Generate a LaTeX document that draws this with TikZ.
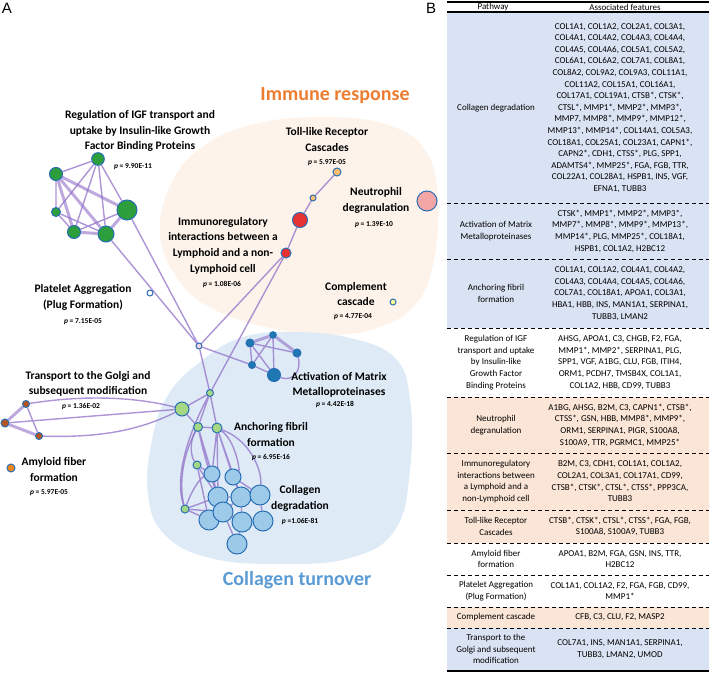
\documentclass[tikz,border=0pt]{standalone}
\usepackage{fontspec}
\setmainfont{Carlito}
\newfontfamily\panelfont{Liberation Sans}
\definecolor{rim}{RGB}{40,110,180}
\definecolor{linkc}{RGB}{145,112,200}
\definecolor{igf}{RGB}{44,158,60}
\definecolor{immred}{RGB}{230,50,50}
\definecolor{toll}{RGB}{253,191,111}
\definecolor{neut}{RGB}{244,166,166}
\definecolor{compl}{RGB}{255,255,150}
\definecolor{hubc}{RGB}{243,214,232}
\definecolor{mmp}{RGB}{31,119,180}
\definecolor{lgreen}{RGB}{166,216,132}
\definecolor{lblue}{RGB}{158,202,233}
\definecolor{golgi}{RGB}{180,85,35}
\definecolor{amy}{RGB}{242,135,30}
\definecolor{peach}{RGB}{253,243,234}
\definecolor{blobblue}{RGB}{222,235,247}
\definecolor{immtext}{RGB}{237,125,49}
\definecolor{coltext}{RGB}{91,155,213}
\definecolor{rowblue}{RGB}{218,227,243}
\definecolor{roworange}{RGB}{251,229,214}
\pgfdeclarelayer{blob}
\pgfdeclarelayer{link}
\pgfsetlayers{blob,link,main}
\begin{document}
\begin{tikzpicture}[x=1pt,y=-1pt,
 nd/.style={circle,draw=rim,line width=1pt,inner sep=0pt},
 lk/.style={draw=linkc,line width=1.4pt,opacity=0.75},
 lkb/.style={draw=linkc,line width=3pt,opacity=0.6},
 lbl/.style={font=\fontsize{11.5}{15.6}\selectfont\bfseries,align=center},
 pv/.style={font=\fontsize{7.5}{9}\selectfont\bfseries},
 cell/.style={font=\fontsize{9}{11.6}\selectfont,align=center},
 sep/.style={line width=0.9pt,dash pattern=on 4pt off 3pt}]
\useasboundingbox (0,0) rectangle (709,674);
\begin{pgfonlayer}{blob}
\fill[peach] plot[smooth cycle,tension=0.7] coordinates {(160,235) (172,182) (205,145) (255,124) (320,117) (385,124) (425,150) (438,200) (433,265) (415,305) (380,327) (330,335) (270,328) (215,310) (180,282)};
\fill[blobblue] plot[smooth cycle,tension=0.7] coordinates {(240,338) (290,332) (350,338) (395,358) (410,400) (410,470) (395,530) (350,558) (280,564) (210,558) (165,535) (148,495) (152,440) (168,395) (200,362)};
\end{pgfonlayer}
\node[font=\fontsize{15}{18}\selectfont\panelfont] (tagA) at (7,8) {A};
\node[font=\fontsize{15}{18}\selectfont\panelfont] (tagB) at (431,8) {B};
\node[font=\fontsize{20}{24}\selectfont\bfseries,text=immtext] (immune) at (335,96) {Immune response};
\node[font=\fontsize{20}{24}\selectfont\bfseries,text=coltext] (turnover) at (297,580) {Collagen turnover};
\node[nd,fill=igf,minimum size=12.6pt] (n1) at (98,159) {};
\node[nd,fill=igf,minimum size=13pt] (n2) at (56,174) {};
\node[nd,fill=igf,minimum size=9pt] (n3) at (56,212) {};
\node[nd,fill=igf,minimum size=13pt] (n4) at (74,232) {};
\node[nd,fill=igf,minimum size=16pt] (n5) at (106,234) {};
\node[nd,fill=igf,minimum size=20pt] (n6) at (127,210) {};
\node[nd,fill=toll,minimum size=8pt] (t1) at (337,172) {};
\node[nd,fill=toll,minimum size=6pt] (t2) at (313,198) {};
\node[nd,fill=immred,minimum size=15pt] (i1) at (300,220) {};
\node[nd,fill=immred,minimum size=10pt] (i2) at (286,253) {};
\node[nd,fill=neut,minimum size=20pt] (neu) at (427,201) {};
\node[nd,fill=compl,minimum size=6pt] (comp) at (393,302) {};
\node[nd,fill=white,minimum size=6pt] (plat) at (150,293) {};
\node[nd,fill=hubc,minimum size=6pt] (hub) at (199,346) {};
\node[nd,fill=mmp,minimum size=6.6pt] (m1) at (273,335) {};
\node[nd,fill=mmp,minimum size=8pt] (m2) at (250,343) {};
\node[nd,fill=mmp,minimum size=8pt] (m3) at (297,353) {};
\node[nd,fill=mmp,minimum size=7pt] (m4) at (252,365) {};
\node[nd,fill=mmp,minimum size=13pt] (m5) at (274,375) {};
\node[nd,fill=lgreen,minimum size=7pt] (g1) at (210,393) {};
\node[nd,fill=lgreen,minimum size=14pt] (g2) at (182,409) {};
\node[nd,fill=lgreen,minimum size=9pt] (g3) at (198,427) {};
\node[nd,fill=lgreen,minimum size=10pt] (g4) at (217,428) {};
\node[nd,fill=lgreen,minimum size=8pt] (g5) at (197,465) {};
\node[nd,fill=lgreen,minimum size=8pt] (g6) at (185,509) {};
\node[nd,fill=lblue,minimum size=16pt] (c1) at (212,474) {};
\node[nd,fill=lblue,minimum size=16pt] (c2) at (233,477) {};
\node[nd,fill=lblue,minimum size=20pt] (c3) at (218,497) {};
\node[nd,fill=lblue,minimum size=20pt] (c4) at (241,497) {};
\node[nd,fill=lblue,minimum size=20pt] (c5) at (260,495) {};
\node[nd,fill=lblue,minimum size=20pt] (c7) at (209,520) {};
\node[nd,fill=lblue,minimum size=20pt] (c6) at (223,512) {};
\node[nd,fill=lblue,minimum size=20pt] (c8) at (242,522) {};
\node[nd,fill=lblue,minimum size=20pt] (c9) at (263,521) {};
\node[nd,fill=lblue,minimum size=20pt] (c10) at (237,544) {};
\node[nd,fill=golgi,minimum size=7pt] (b1) at (26,404) {};
\node[nd,fill=golgi,minimum size=8pt] (b2) at (5,423) {};
\node[nd,fill=golgi,minimum size=7pt] (b3) at (39,436) {};
\node[nd,fill=amy,minimum size=8pt] (amyn) at (11,468) {};
\begin{pgfonlayer}{link}
\draw[lk] (n2)--(n1) (n2)--(n3) (n1)--(n4) (n1)--(n3) (n3)--(n4) (n4)--(n6) (n1)--(n5) (n3)--(n5) (n1)--(n6);
\draw[lkb] (n2)--(n6) (n2)--(n5) (n4)--(n5) (n5)--(n6) (n2)--(n4);
\draw[lk] (n6)--(hub) (n5)--(hub) (i2)--(hub) (i2)--(g1) (hub)--(g1) (hub)--(m4);
\draw[lk] (t1)--(t2)--(i1)--(i2);
\draw[lkb] (m1)--(m2) (m1)--(m3);
\draw[lk] (m2)--(m4) (m2)--(m5) (m4)--(m5) (m1)--(m5) (m1)--(m4) (m2)--(m3) (m3) .. controls (302,372) and (292,382) .. (m5);
\draw[lkb] (b1)--(b2) (b2)--(b3);
\draw[lk] (b1)--(b3) (b2)--(g2) (b1) .. controls (90,394) and (140,398) .. (g2) (b3) .. controls (100,438) and (140,430) .. (g2);
\draw[lk] (g1)--(g2) (g1)--(g3) (g1)--(g4) (g2)--(g3) (g3)--(g4) (g1) .. controls (185,440) and (175,480) .. (g6);
\draw[lk] (g3) .. controls (190,440) and (190,455) .. (g5) (g3)--(c1) (g3) .. controls (205,460) and (212,480) .. (c3) (g4)--(c1) (g4)--(c2) (g4)--(c4) (g4) .. controls (250,440) and (262,470) .. (c5) (g4) .. controls (235,440) and (240,470) .. (c2) (g4)--(c3);
\draw[lk] (g5)--(c1) (g5)--(c3) (g5)--(c7) (g6)--(c3) (g6)--(c6) (g6)--(c7) (g6) .. controls (192,490) and (200,478) .. (c1) (g3) .. controls (180,460) and (180,490) .. (g6);
\draw[lk] (c1)--(c3) (c3)--(c6) (c6)--(c8) (c8)--(c10) (c6)--(c10) (c4)--(c8) (c5)--(c9) (c3)--(c4) (c2)--(c4) (c4)--(c6) (c2)--(c5) (c8)--(c9);
\end{pgfonlayer}
\node[lbl] (igflab) at (140,131) {Regulation of IGF transport and\\uptake by Insulin-like Growth\\Factor Binding Proteins};
\node[pv] (igfp) at (133,167) {{\itshape p} = 9.90E-11};
\node[lbl] (tolllab) at (327,139.5) {Toll-like Receptor\\Cascades};
\node[pv] (tollp) at (327,163) {{\itshape p} = 5.97E-05};
\node[lbl] (neulab) at (376,200.5) {Neutrophil\\degranulation};
\node[pv] (neup) at (374,225) {{\itshape p} = 1.39E-10};
\node[lbl] (immlab) at (223,245.5) {Immunoregulatory\\interactions between a\\Lymphoid and a non-\\Lymphoid cell};
\node[pv] (immp) at (222,284) {{\itshape p} = 1.08E-06};
\node[lbl] (platlab) at (83,297.5) {Platelet Aggregation\\(Plug Formation)};
\node[pv] (platp) at (83,322) {{\itshape p} = 7.15E-05};
\node[lbl] (complab) at (356,294) {Complement\\cascade};
\node[pv] (compp) at (353,317) {{\itshape p} = 4.77E-04};
\node[lbl] (mmplab) at (339,385) {Activation of Matrix\\Metalloproteinases};
\node[pv] (mmpp) at (335,404) {{\itshape p} = 4.42E-18};
\node[lbl] (golgilab) at (88,384) {Transport to the Golgi and\\subsequent modification};
\node[pv] (golgip) at (81,407) {{\itshape p} = 1.36E-02};
\node[lbl] (amylab) at (54,469.5) {Amyloid fiber\\formation};
\node[pv] (amyp) at (49,493) {{\itshape p} = 5.97E-05};
\node[lbl] (anchlab) at (271,434.5) {Anchoring fibril\\formation};
\node[pv] (anchp) at (271,458) {{\itshape p} = 6.95E-16};
\node[lbl] (collab) at (300,498.5) {Collagen\\degradation};
\node[pv] (colp) at (300,521) {{\itshape p} =1.06E-81};
\fill[rowblue] (447,13) rectangle (709,328);
\fill[roworange] (447,397) rectangle (709,543);
\fill[roworange] (447,607) rectangle (709,628);
\fill[rowblue] (447,628) rectangle (709,670);
\draw[line width=2pt] (447,2)--(709,2);
\draw[line width=1.6pt] (447,12)--(709,12);
\draw[line width=2pt] (447,671)--(709,671);
\draw[sep] (447,203)--(709,203) (447,259)--(709,259) (447,328)--(709,328) (447,397)--(709,397) (447,453)--(709,453) (447,510)--(709,510) (447,543)--(709,543) (447,575)--(709,575) (447,607)--(709,607) (447,628)--(709,628);
\node[cell] (hpath) at (493,7) {Pathway};
\node[cell] (hfeat) at (625,7) {Associated features};
\node[cell] (p1) at (496,108) {Collagen degradation};
\node[cell] (f1) at (620,108) {COL1A1, COL1A2, COL2A1, COL3A1,\\COL4A1, COL4A2, COL4A3, COL4A4,\\COL4A5, COL4A6, COL5A1, COL5A2,\\COL6A1, COL6A2, COL7A1, COL8A1,\\COL8A2, COL9A2, COL9A3, COL11A1,\\COL11A2, COL15A1, COL16A1,\\COL17A1, COL19A1, CTSB*, CTSK*,\\CTSL*, MMP1*, MMP2*, MMP3*,\\MMP7, MMP8*, MMP9*, MMP12*,\\MMP13*, MMP14*, COL14A1, COL5A3,\\COL18A1, COL25A1, COL23A1, CAPN1*,\\CAPN2*, CDH1, CTSS*, PLG, SPP1,\\ADAMTS4*, MMP25*, FGA, FGB, TTR,\\COL22A1, COL28A1, HSPB1, INS, VGF,\\EFNA1, TUBB3};
\node[cell] (p2) at (496,231) {Activation of Matrix\\Metalloproteinases};
\node[cell] (f2) at (620,231) {CTSK*, MMP1*, MMP2*, MMP3*,\\MMP7*, MMP8*, MMP9*, MMP13*,\\MMP14*, PLG, MMP25*, COL18A1,\\HSPB1, COL1A2, H2BC12};
\node[cell] (p3) at (496,293.5) {Anchoring fibril\\formation};
\node[cell] (f3) at (620,293.5) {COL1A1, COL1A2, COL4A1, COL4A2,\\COL4A3, COL4A4, COL4A5, COL4A6,\\COL7A1, COL18A1, APOA1, COL3A1,\\HBA1, HBB, INS, MAN1A1, SERPINA1,\\TUBB3, LMAN2};
\node[cell] (p4) at (496,362.5) {Regulation of IGF\\transport and uptake\\by Insulin-like\\Growth Factor\\Binding Proteins};
\node[cell] (f4) at (620,362.5) {AHSG, APOA1, C3, CHGB, F2, FGA,\\MMP1*, MMP2*, SERPINA1, PLG,\\SPP1, VGF, A1BG, CLU, FGB, ITIH4,\\ORM1, PCDH7, TMSB4X, COL1A1,\\COL1A2, HBB, CD99, TUBB3};
\node[cell] (p5) at (496,425) {Neutrophil\\degranulation};
\node[cell] (f5) at (620,425) {A1BG, AHSG, B2M, C3, CAPN1*, CTSB*,\\CTSS*, GSN, HBB, MMP8*, MMP9*,\\ORM1, SERPINA1, PIGR, S100A8,\\S100A9, TTR, PGRMC1, MMP25*};
\node[cell] (p6) at (496,481.5) {Immunoregulatory\\interactions between\\a Lymphoid and a\\non-Lymphoid cell};
\node[cell] (f6) at (620,481.5) {B2M, C3, CDH1, COL1A1, COL1A2,\\COL2A1, COL3A1, COL17A1, CD99,\\CTSB*, CTSK*, CTSL*, CTSS*, PPP3CA,\\TUBB3};
\node[cell] (p7) at (496,526.5) {Toll-like Receptor\\Cascades};
\node[cell] (f7) at (620,526.5) {CTSB*, CTSK*, CTSL*, CTSS*, FGA, FGB,\\S100A8, S100A9, TUBB3};
\node[cell] (p8) at (496,559) {Amyloid fiber\\formation};
\node[cell] (f8) at (620,559) {APOA1, B2M, FGA, GSN, INS, TTR,\\H2BC12};
\node[cell] (p9) at (496,591) {Platelet Aggregation\\(Plug Formation)};
\node[cell] (f9) at (620,591) {COL1A1, COL1A2, F2, FGA, FGB, CD99,\\MMP1*};
\node[cell] (p10) at (496,617.5) {Complement cascade};
\node[cell] (f10) at (620,617.5) {CFB, C3, CLU, F2, MASP2};
\node[cell] (p11) at (496,649) {Transport to the\\Golgi and subsequent\\modification};
\node[cell] (f11) at (620,649) {COL7A1, INS, MAN1A1, SERPINA1,\\TUBB3, LMAN2, UMOD};
\end{tikzpicture}
\end{document}
